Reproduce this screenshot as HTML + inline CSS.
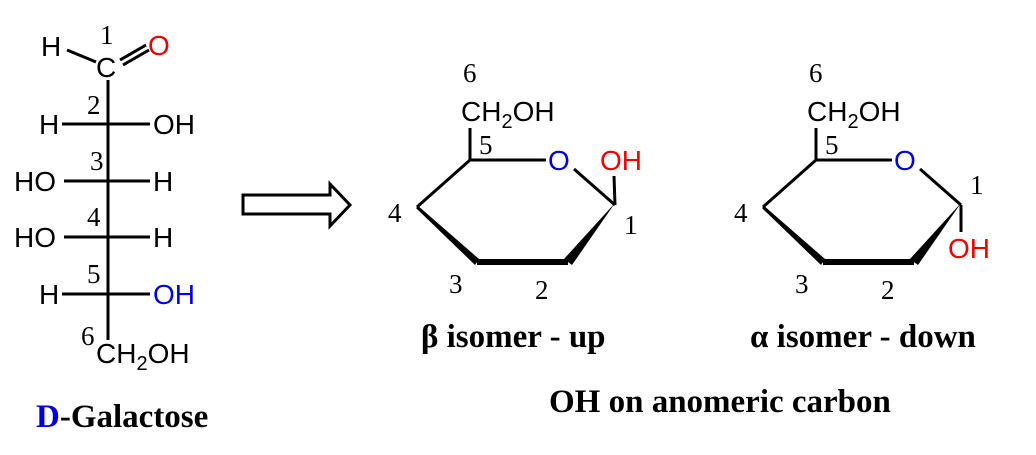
<!DOCTYPE html>
<html><head><style>
body{margin:0;background:#fff;width:1036px;height:450px;overflow:hidden}
svg text{font-family:"Liberation Sans",sans-serif;font-size:28px}
.n{font-family:"Liberation Serif",serif;font-size:27px}
.b{font-family:"Liberation Serif",serif;font-size:33px;font-weight:bold}
</style></head><body>
<svg width="1036" height="450" viewBox="0 0 1036 450">
<g stroke="#000" stroke-width="3" fill="none">
<line x1="67" y1="50" x2="96" y2="62"/>
<line x1="120" y1="60" x2="146" y2="45"/>
<line x1="123" y1="65" x2="149" y2="50"/>
<line x1="108" y1="80" x2="108" y2="340"/>
<line x1="62" y1="124" x2="150" y2="124"/>
<line x1="64" y1="181" x2="150" y2="181"/>
<line x1="64" y1="237" x2="150" y2="237"/>
<line x1="62" y1="294" x2="150" y2="294"/>
</g>
<text x="41" y="56">H</text>
<text x="96" y="77">C</text>
<text x="148" y="55" fill="#e00">O</text>
<text class="n" x="100" y="44">1</text>
<text class="n" x="87" y="114">2</text>
<text class="n" x="90" y="170">3</text>
<text class="n" x="87" y="226">4</text>
<text class="n" x="87" y="283">5</text>
<text class="n" x="81" y="345">6</text>
<text x="39" y="134">H</text><text x="153" y="134">OH</text>
<text x="14" y="191">HO</text><text x="153" y="191">H</text>
<text x="14" y="247">HO</text><text x="153" y="247">H</text>
<text x="39" y="304">H</text><text x="153" y="304" fill="#00d">OH</text>
<text x="96" y="363">CH<tspan font-size="20" dy="7">2</tspan><tspan dy="-7">OH</tspan></text>
<text class="b" x="36" y="427"><tspan fill="#00d">D</tspan>-Galactose</text>

<path d="M243,195 H330 V184 L350,205 L330,226 V214 H243 Z" fill="#fff" stroke="#000" stroke-width="3"/>

<g id="ring">
<g stroke="#000" stroke-width="3" fill="none">
<line x1="470" y1="160" x2="470" y2="128"/>
<line x1="470" y1="160" x2="546" y2="160"/>
<line x1="574" y1="169" x2="615" y2="205"/>
<line x1="470" y1="160" x2="417" y2="207"/>
<line x1="417" y1="207" x2="477" y2="262"/>
<line x1="477" y1="262" x2="568" y2="262" stroke-width="6"/>
</g>
<polygon points="615,203 572,265 564,259" fill="#000"/>
<polygon points="417,205 479,259 475,265 417,209" fill="#000"/>
<text x="548" y="170" fill="#00d">O</text>
<text x="461" y="121">CH<tspan font-size="20" dy="7">2</tspan><tspan dy="-7">OH</tspan></text>
<text class="n" x="463" y="82">6</text>
<text class="n" x="479" y="154">5</text>
<text class="n" x="388" y="222">4</text>
<text class="n" x="449" y="293">3</text>
<text class="n" x="535" y="299">2</text>
</g>
<line x1="615" y1="205" x2="614" y2="176" stroke="#000" stroke-width="3"/>
<text x="600" y="170" fill="#e00">OH</text>
<text class="n" x="624" y="234">1</text>
<text class="b" x="421" y="347">β isomer - up</text>

<use href="#ring" x="346" y="0"/>
<line x1="961" y1="205" x2="961" y2="232" stroke="#000" stroke-width="3"/>
<text x="948" y="258" fill="#e00">OH</text>
<text class="n" x="970" y="194">1</text>
<text class="b" x="750" y="347">α isomer - down</text>
<text class="b" x="549" y="412">OH on anomeric carbon</text>
</svg>
</body></html>
